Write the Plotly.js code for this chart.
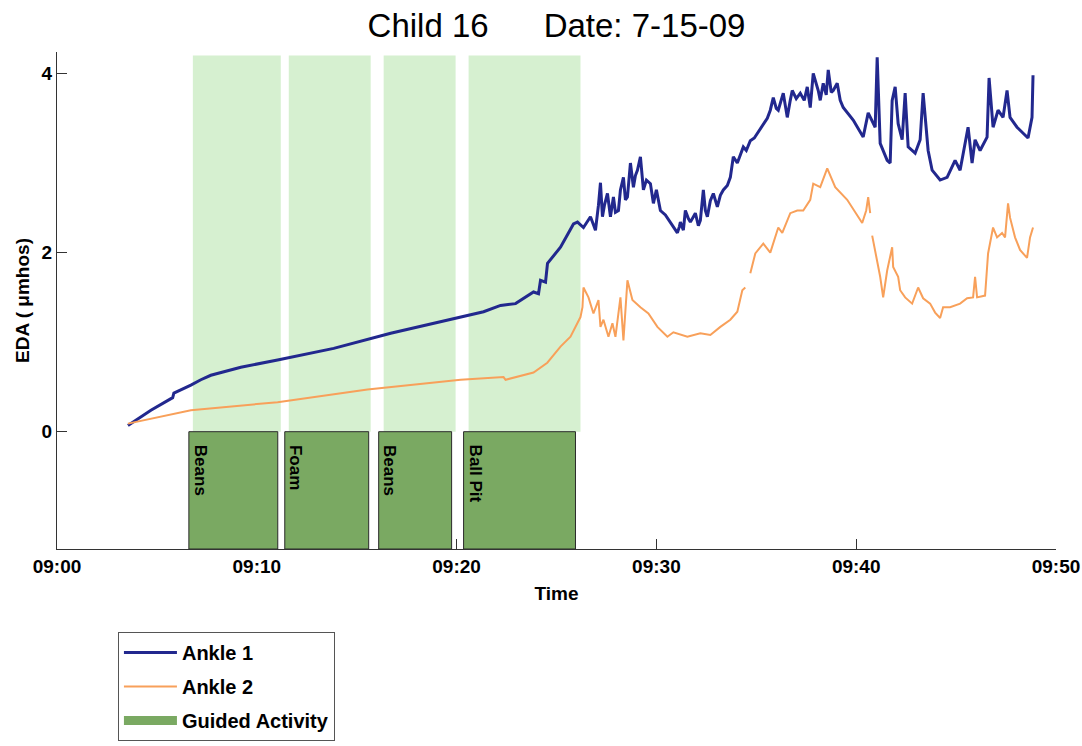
<!DOCTYPE html>
<html>
<head>
<meta charset="utf-8">
<script src="https://cdn.plot.ly/plotly-3.0.1.min.js"></script>
<style>html,body{margin:0;padding:0;background:#fff;}#chart{width:1082px;height:746px;}</style>
</head>
<body>
<div id="chart"></div>
<script>
// Time in minutes after 09:00
const xTickVals = [0, 10, 20, 30, 40, 50];
const xTickText = ['09:00', '09:10', '09:20', '09:30', '09:40', '09:50'];
const yTickVals = [0, 2, 4];
const yTickText = ['0', '2', '4'];

// Ankle 1 (blue)
const ankle1Min = [3.55,4.70,5.79,5.85,6.70,7.20,7.70,9.20,11.04,13.85,16.70,18.85,20.20,21.35,22.20,22.95,23.85,24.10,24.20,24.45,24.55,25.20,25.85,
  26.05,26.35,26.70,26.85,26.95,27.10,27.20,27.30,27.40,27.55,27.70,27.85,27.95,28.10,28.20,28.35,28.45,28.55,28.70,28.85,28.95,29.05,29.20,29.35,29.50,29.70,29.85,30.00,
  30.20,30.45,30.70,30.90,31.05,31.15,31.20,31.35,31.45,31.60,31.70,31.95,32.10,32.20,32.35,32.45,32.55,32.70,32.85,33.05,33.20,33.35,33.55,33.70,33.85,34.05,34.20,34.35,
  34.50,34.70,34.90,35.05,35.20,35.35,35.55,35.70,35.85,36.00,36.10,36.35,36.55,36.70,36.80,37.00,37.20,37.40,37.55,37.70,37.85,38.10,38.20,38.35,38.50,38.60,38.75,38.85,
  39.05,39.20,39.35,39.85,40.35,40.60,40.95,
  41.05,41.20,41.55,41.70,41.80,41.95,42.10,42.30,42.45,42.60,42.95,43.20,43.35,43.60,43.80,44.20,44.55,44.95,45.20,45.60,45.80,45.95,46.20,46.55,46.65,46.85,47.10,47.35,
  47.55,47.70,48.05,48.35,48.60,48.80,48.85];
const ankle1Val = [0.07,0.24,0.38,0.43,0.52,0.58,0.63,0.72,0.80,0.93,1.10,1.21,1.28,1.34,1.41,1.43,1.56,1.54,1.69,1.67,1.88,2.06,2.32,
  2.34,2.28,2.40,2.31,2.25,2.53,2.78,2.40,2.53,2.66,2.40,2.62,2.45,2.47,2.70,2.84,2.59,2.62,3.00,2.73,2.86,2.92,3.07,2.70,2.81,2.77,2.55,2.70,
  2.47,2.42,2.33,2.27,2.22,2.29,2.34,2.25,2.47,2.38,2.34,2.44,2.30,2.36,2.70,2.47,2.40,2.58,2.66,2.51,2.64,2.70,2.75,2.84,3.07,3.00,3.09,3.18,
  3.14,3.25,3.28,3.33,3.39,3.44,3.50,3.59,3.73,3.61,3.59,3.78,3.51,3.70,3.81,3.72,3.78,3.70,3.85,3.62,4.00,3.81,3.70,3.89,3.76,4.04,3.79,3.81,
  3.89,3.70,3.62,3.48,3.29,3.56,3.40,
  4.18,3.22,3.03,3.00,3.70,3.85,3.44,3.26,3.78,3.18,3.11,3.26,3.78,3.14,2.92,2.81,2.84,3.03,2.92,3.40,3.00,3.26,3.14,3.29,3.95,3.40,3.59,3.51,
  3.81,3.51,3.40,3.33,3.28,3.51,3.98];

// Ankle 2 (orange); null = gap in recording
const ankle2Min = [3.55,6.70,11.04,15.54,20.20,22.35,22.45,23.85,24.54,25.20,25.70,26.20,26.30,26.35,26.60,26.85,27.10,27.20,27.35,27.60,27.80,27.95,28.20,28.35,28.55,
  28.80,29.20,29.60,30.05,30.55,30.85,31.55,32.20,32.70,33.20,33.70,34.05,34.30,34.45,34.57,34.70,34.95,35.35,35.70,36.10,36.30,36.70,37.05,37.35,37.70,37.85,38.20,38.55,
  38.80,38.95,39.55,40.30,40.50,40.60,40.70,40.75,40.80,41.20,41.35,41.55,41.80,41.85,42.10,42.20,42.45,42.80,43.10,43.35,43.70,43.95,44.20,44.35,44.70,45.20,45.55,45.85,
  45.95,46.05,46.45,46.60,46.85,47.05,47.30,47.45,47.60,47.70,47.95,48.20,48.55,48.70,48.85];
const ankle2Val = [0.09,0.24,0.33,0.47,0.58,0.61,0.58,0.66,0.77,0.95,1.06,1.28,1.39,1.61,1.50,1.32,1.47,1.17,1.25,1.06,1.21,1.06,1.50,1.02,1.69,
  1.47,1.39,1.32,1.17,1.06,1.11,1.06,1.10,1.08,1.17,1.25,1.34,1.58,1.61,null,1.77,1.99,2.10,2.00,2.28,2.22,2.44,2.47,2.47,2.59,2.77,2.73,2.94,
  2.81,2.73,2.59,2.33,2.47,2.62,2.44,null,2.19,1.73,1.50,1.80,2.06,1.84,1.73,1.58,1.50,1.43,1.61,1.49,1.43,1.33,1.27,1.39,1.39,1.43,1.49,1.50,
  1.73,1.50,1.52,1.99,2.28,2.17,2.22,2.17,2.55,2.39,2.17,2.03,1.94,2.17,2.28];

// Guided activities
const activityNames = ['Beans', 'Foam', 'Beans', 'Ball Pit'];
const activityStart = [6.60, 11.40, 16.10, 20.35];
const activityEnd = [11.05, 15.60, 19.75, 25.95];
const shadeStart = [6.80, 11.60, 16.35, 20.60];
const shadeEnd = [11.20, 15.70, 19.95, 26.20];
const shadeTop = 4.2;

const yMin = -1.31, yMax = 4.24;

const blue = '#22288e';
const orange = '#f8a05a';
const darkGreen = '#7aa962';
const lightGreen = '#d6f0d0';
const fontFam = 'Liberation Sans, Arial, sans-serif';

const shapes = [];
shadeStart.forEach((s, i) => {
  shapes.push({type: 'rect', xref: 'x', yref: 'y', x0: s, x1: shadeEnd[i], y0: 0, y1: shadeTop,
    fillcolor: lightGreen, line: {width: 0}, layer: 'below'});
});
activityStart.forEach((s, i) => {
  shapes.push({type: 'rect', xref: 'x', yref: 'y', x0: s, x1: activityEnd[i], y0: yMin, y1: 0,
    fillcolor: darkGreen, line: {color: '#2a2a2a', width: 1}, layer: 'above'});
});

const annotations = activityNames.map((n, i) => ({
  x: activityStart[i], y: 0, xref: 'x', yref: 'y', text: n, showarrow: false,
  textangle: 90, xanchor: 'left', yanchor: 'top', xshift: 0, yshift: -11,
  font: {family: fontFam, size: 17, color: '#000', weight: 'bold'}
}));

const traces = [
  {x: ankle1Min, y: ankle1Val, type: 'scatter', mode: 'lines', name: 'Ankle 1',
   line: {color: blue, width: 3}, legendgroup: 'a1', connectgaps: false},
  {x: ankle2Min, y: ankle2Val, type: 'scatter', mode: 'lines', name: 'Ankle 2',
   line: {color: orange, width: 2}, legendgroup: 'a2', connectgaps: false},
  {x: [null], y: [null], type: 'scatter', mode: 'lines', name: 'Guided Activity',
   line: {color: darkGreen, width: 9}, legendgroup: 'ga'}
];

const layout = {
  width: 1082, height: 746,
  margin: {l: 57, r: 26, t: 52, b: 197, autoexpand: false},
  paper_bgcolor: '#fff', plot_bgcolor: 'rgba(0,0,0,0)',
  font: {family: fontFam, color: '#000'},
  title: {text: 'Child 16\u00a0\u00a0\u00a0\u00a0\u00a0\u00a0Date: 7-15-09', font: {family: fontFam, size: 33, color: '#000'},
    x: 0.5, xref: 'paper', xanchor: 'center', y: 0.966, yref: 'container', yanchor: 'middle'},
  xaxis: {range: [0, 50], tickvals: xTickVals, ticktext: xTickText, ticks: 'inside', ticklen: 10,
    tickcolor: '#333', showline: true, linecolor: '#333', linewidth: 1, showgrid: false, zeroline: false,
    tickfont: {family: fontFam, size: 19, weight: 'bold'},
    title: {text: 'Time', font: {family: fontFam, size: 19, weight: 'bold'}, standoff: 10}, automargin: false},
  yaxis: {range: [yMin, yMax], tickvals: yTickVals, ticktext: yTickText, ticks: 'inside', ticklen: 10,
    tickcolor: '#333', showline: true, linecolor: '#333', linewidth: 1, showgrid: false, zeroline: false,
    tickfont: {family: fontFam, size: 19, weight: 'bold'},
    title: {text: 'EDA ( \u03bcmhos)', font: {family: fontFam, size: 19, weight: 'bold'}, standoff: 6}, automargin: false},
  shapes: shapes,
  annotations: annotations,
  showlegend: true,
  legend: {x: 0.061, y: -0.167, xanchor: 'left', yanchor: 'top', bgcolor: '#fff', bordercolor: '#555', borderwidth: 1,
    font: {family: fontFam, size: 20, weight: 'bold'}, tracegroupgap: 5, itemwidth: 53, traceorder: 'grouped'}
};

Plotly.newPlot('chart', traces, layout, {displayModeBar: false, staticPlot: true});
</script>
</body>
</html>
